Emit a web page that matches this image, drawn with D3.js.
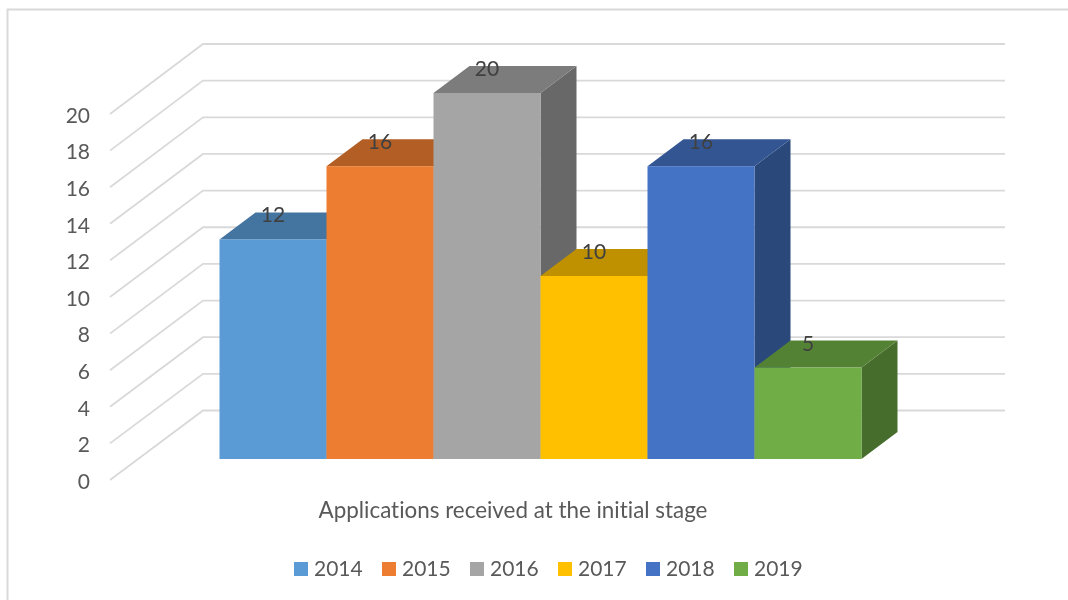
<!DOCTYPE html>
<html lang="en">
<head>
    <meta charset="UTF-8">
    <title>Applications received at the initial stage</title>
    <script src="https://d3js.org/d3.v7.min.js"></script>
    <style>
        html, body { margin: 0; padding: 0; background: #fff; }
        svg { display: block; filter: blur(0.45px); }
        text { font-family: Lato, "Open Sans", sans-serif; font-variant-ligatures: none; }
    </style>
</head>
<body>
    <svg></svg>
    <script>
        const years = ['2014', '2015', '2016', '2017', '2018', '2019'];
        const applications = [12, 16, 20, 10, 16, 5];
        const yTicks = [0, 2, 4, 6, 8, 10, 12, 14, 16, 18, 20];
        const axisTitle = 'Applications received at the initial stage';
        const colors = ['#5b9bd5', '#ed7d31', '#a5a5a5', '#ffc000', '#4472c4', '#70ad47'];

        const svgWidth = 1068;
        const svgHeight = 600;

        // depth of the bars and of the side wall, the chart is a fake 3d projection
        const barDepth = { x: 36, y: -27 };
        const wallDepth = { x: 93, y: -69.5 };
        const wallLeft = 110;
        const wallRight = 1005;

        const svg = d3.select('svg')
            .attr('width', svgWidth)
            .attr('height', svgHeight);

        // chart frame, only top and left are inside the picture
        svg.append('path')
            .attr('d', `M7.5,${svgHeight}V9.5H${svgWidth}`)
            .attr('fill', 'none')
            .attr('stroke', '#d9d9d9')
            .attr('stroke-width', 2);

        const x = d3.scaleBand()
            .domain(years)
            .range([219.5, 861.5])
            .padding(0);

        const y = d3.scaleLinear().domain([0, 20]).range([459, 93]);
        const yFront = d3.scaleLinear().domain([0, 20]).range([480, 114]);
        const yBack = d3.scaleLinear().domain([0, 20]).range([410.5, 44]);

        const line = d3.line();

        svg.append('g')
            .selectAll('path')
            .data(yTicks)
            .join('path')
            .attr('d', d => line([
                [wallLeft, yFront(d)],
                [wallLeft + wallDepth.x, yBack(d)],
                [wallRight, yBack(d)]
            ]))
            .attr('fill', 'none')
            .attr('stroke', '#d9d9d9')
            .attr('stroke-width', 1.8);

        const axis = svg.append('g')
            .attr('transform', 'translate(90,1.5)')
            .call(d3.axisLeft(yFront).tickValues(yTicks).tickSize(0).tickPadding(0));
        axis.select('.domain').remove();
        axis.selectAll('text')
            .attr('fill', '#595959')
            .style('font-family', 'Lato, "Open Sans", sans-serif')
            .style('font-size', '21px');

        const data = years.map((year, i) => ({ year, value: applications[i], color: colors[i] }));

        function shade(color, k) {
            const c = d3.rgb(color);
            return d3.rgb(c.r * k, c.g * k, c.b * k).formatHex();
        }

        // left to right so that each front face hides the side of the bar before it
        const bars = svg.append('g')
            .selectAll('g')
            .data(data)
            .join('g');

        bars.append('path')
            .attr('fill', d => shade(d.color, 0.63))
            .attr('d', d => {
                const r = x(d.year) + x.bandwidth();
                return line([
                    [r, y(d.value)],
                    [r + barDepth.x, y(d.value) + barDepth.y],
                    [r + barDepth.x, y(0) + barDepth.y],
                    [r, y(0)]
                ]) + 'Z';
            });

        bars.append('path')
            .attr('fill', d => shade(d.color, 0.75))
            .attr('d', d => {
                const l = x(d.year);
                const r = l + x.bandwidth();
                return line([
                    [l, y(d.value)],
                    [l + barDepth.x, y(d.value) + barDepth.y],
                    [r + barDepth.x, y(d.value) + barDepth.y],
                    [r, y(d.value)]
                ]) + 'Z';
            });

        bars.append('rect')
            .attr('x', d => x(d.year))
            .attr('y', d => y(d.value))
            .attr('width', x.bandwidth())
            .attr('height', d => y(0) - y(d.value))
            .attr('fill', d => d.color);

        svg.append('g')
            .selectAll('text')
            .data(data)
            .join('text')
            .attr('x', d => x(d.year) + x.bandwidth() / 2)
            .attr('y', d => y(d.value) - 17)
            .attr('text-anchor', 'middle')
            .attr('fill', '#404040')
            .style('font-size', '21px')
            .text(d => d.value);

        svg.append('text')
            .attr('x', 513)
            .attr('y', 518)
            .attr('text-anchor', 'middle')
            .attr('fill', '#595959')
            .style('font-size', '22.4px')
            .text(axisTitle);

        const legendX = d3.scalePoint()
            .domain(years)
            .range([294, 734]);

        const legend = svg.append('g')
            .selectAll('g')
            .data(data)
            .join('g')
            .attr('transform', d => `translate(${legendX(d.year)},562)`);

        legend.append('rect')
            .attr('width', 14)
            .attr('height', 14)
            .attr('fill', d => d.color);

        legend.append('text')
            .attr('x', 20)
            .attr('y', 14)
            .attr('fill', '#595959')
            .style('font-size', '21px')
            .text(d => d.year);
    </script>
</body>
</html>
